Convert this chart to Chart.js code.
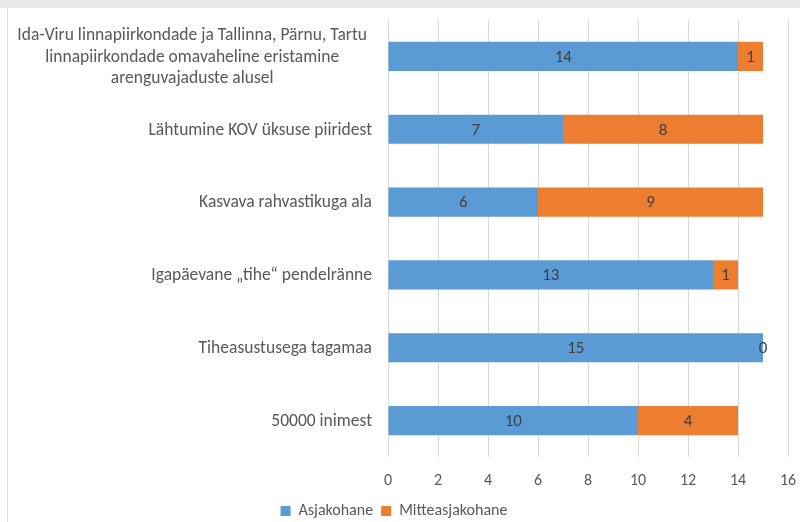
<!DOCTYPE html>
<html>
<head>
<meta charset="utf-8">
<script src="https://cdn.jsdelivr.net/npm/chart.js@4/dist/chart.umd.min.js"></script>
<style>
  html, body { margin: 0; padding: 0; background: #fff; }
  .wrap { position: relative; width: 800px; height: 522px; overflow: hidden; }
  .top-band { position: absolute; left: 0; top: 0; width: 800px; height: 8px; background: #e7e7e7; }
  .left-line { position: absolute; left: 7px; top: 8px; width: 1px; height: 514px; background: #dcdcdc; }
  canvas { position: absolute; left: 0; top: 0; }
</style>
</head>
<body>
<div class="wrap">
  <canvas id="myChart" width="800" height="522"></canvas>
  <div class="top-band"></div>
  <div class="left-line"></div>
</div>
<script>
const categories = [
  ["Ida-Viru linnapiirkondade ja Tallinna, Pärnu, Tartu", "linnapiirkondade omavaheline eristamine", "arenguvajaduste alusel"],
  "Lähtumine KOV üksuse piiridest",
  "Kasvava rahvastikuga ala",
  "Igapäevane „tihe“ pendelränne",
  "Tiheasustusega tagamaa",
  "50000 inimest"
];
const asjakohane = [14, 7, 6, 13, 15, 10];
const mitteasjakohane = [1, 8, 9, 1, 0, 4];
const xMin = 0;
const xMax = 16;
const xStep = 2;

const fontFamily = "Calibri, Carlito, 'Open Sans', sans-serif";
const textColor = "#595959";

// value labels in the middle of each bar segment
const valueLabels = {
  id: "valueLabels",
  afterDatasetsDraw(chart) {
    const ctx = chart.ctx;
    ctx.save();
    ctx.font = "17px " + fontFamily;
    ctx.fillStyle = "#404040";
    ctx.textAlign = "center";
    ctx.textBaseline = "middle";
    chart.data.datasets.forEach((ds, i) => {
      chart.getDatasetMeta(i).data.forEach((bar, j) => {
        const p = bar.getCenterPoint();
        ctx.fillText(ds.data[j], p.x, p.y + 1);
      });
    });
    ctx.restore();
  }
};

// category labels: single lines right aligned, wrapped ones centred as a block
const categoryLabels = {
  id: "categoryLabels",
  afterDraw(chart) {
    const ctx = chart.ctx;
    const yScale = chart.scales.y;
    const rightEdge = 372;
    const lineHeight = 21.5;
    ctx.save();
    ctx.font = "17.5px " + fontFamily;
    ctx.fillStyle = textColor;
    ctx.textBaseline = "middle";
    categories.forEach((label, i) => {
      const y = yScale.getPixelForTick(i);
      const lines = Array.isArray(label) ? label : [label];
      const widest = Math.max(...lines.map(l => ctx.measureText(l).width));
      const cx = rightEdge - 5 - widest / 2;
      ctx.textAlign = lines.length > 1 ? "center" : "right";
      lines.forEach((line, k) => {
        const ly = y + (k - (lines.length - 1) / 2) * lineHeight + 1;
        ctx.fillText(line, lines.length > 1 ? cx : rightEdge, ly);
      });
    });
    ctx.restore();
  }
};

const data = {
  labels: categories,
  datasets: [{
    label: "Asjakohane",
    data: asjakohane,
    backgroundColor: "#5b9bd5",
    categoryPercentage: 1,
    barPercentage: 0.4
  }, {
    label: "Mitteasjakohane",
    data: mitteasjakohane,
    backgroundColor: "#ed7d31",
    categoryPercentage: 1,
    barPercentage: 0.4
  }]
};

const options = {
  indexAxis: "y",
  responsive: false,
  animation: false,
  layout: {
    padding: { left: 0, right: 12, top: 20, bottom: -7 }
  },
  plugins: {
    legend: {
      position: "bottom",
      labels: {
        font: { family: fontFamily, size: 16 },
        color: textColor,
        boxWidth: 10,
        boxHeight: 10,
        padding: 8
      }
    },
    tooltip: { enabled: false }
  },
  scales: {
    x: {
      stacked: true,
      min: xMin,
      max: xMax,
      ticks: {
        stepSize: xStep,
        color: textColor,
        font: { family: fontFamily, size: 16 },
        padding: 14
      },
      grid: {
        color: "#d9d9d9",
        drawTicks: false
      },
      border: { display: false },
      afterFit: (scale) => {
        scale.height = 38;
        scale.paddingRight = 0;
      }
    },
    y: {
      stacked: true,
      ticks: { display: false },
      grid: { display: false },
      border: { display: false },
      afterFit: (scale) => { scale.width = 388; }
    }
  }
};

new Chart(document.getElementById("myChart").getContext("2d"), {
  type: "bar",
  data: data,
  options: options,
  plugins: [valueLabels, categoryLabels]
});
</script>
</body>
</html>
